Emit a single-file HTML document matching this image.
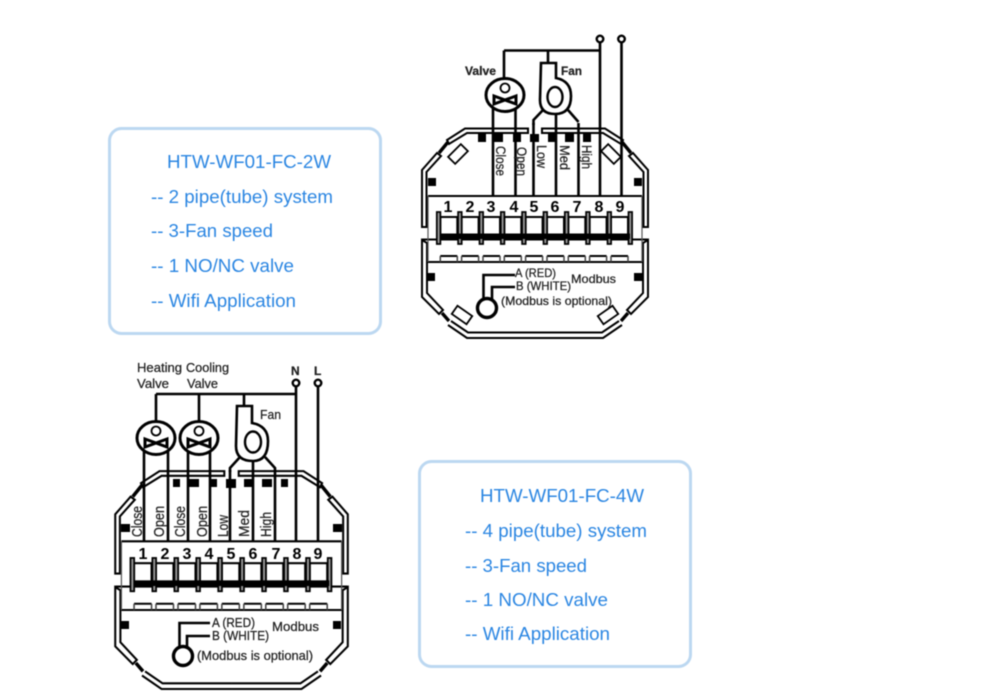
<!DOCTYPE html>
<html>
<head>
<meta charset="utf-8">
<style>
html,body{margin:0;padding:0;background:#fff;width:1000px;height:700px;overflow:hidden}
svg{display:block;filter:blur(.5px)}
.b{font-family:"Liberation Sans",sans-serif;font-size:18px;fill:#2b86e2}
.t{font-family:"Liberation Sans",sans-serif;fill:#222;font-size:12px;stroke:#222;stroke-width:.25px}
.d{font-family:"Liberation Sans",sans-serif;fill:#000;font-size:16px;font-weight:bold;text-anchor:middle}
.w{fill:none;stroke:#000;stroke-width:2.6}
</style>
</head>
<body>
<svg width="1000" height="700" viewBox="0 0 1000 700" xmlns="http://www.w3.org/2000/svg">
<defs>
  <g id="half" fill="none" stroke="#000" stroke-width="2">
    <path d="M528,133 V128.5 H465 L447,140 L449,144 L467,133 Z"/>
    <path d="M448,142 L439,153" stroke-width="3.4"/>
    <path d="M437,153 L422,170 V227 H426.5 V172 L441,156 Z"/>
    <path d="M422,240 V297 L439,314 L443,310 L427,293 V243 Z"/>
    <path d="M442,313 L449,321" stroke-width="3.4"/>
    <path d="M448,325 L467,338 H535 M451,321 L468,332.5 H535"/>
  </g>
  <g id="term">
    <rect x="2" y="217" width="17" height="20" fill="#fff" stroke="#000" stroke-width="2"/>
    <path d="M2,256 H19" stroke="#000" stroke-width="2"/>
    <path d="M2,256 V262 M19,256 V262" stroke="#444" stroke-width="1.5"/>
    <rect x="-1.5" y="212" width="3.6" height="32" fill="#999" stroke="#000" stroke-width="1.7"/>
  </g>
  <g id="case">
    <use href="#half"/>
    <use href="#half" transform="translate(1070,0) scale(-1,1)"/>
    <path d="M428,196 H642 M422,239.5 H648 M428,262 H642" fill="none" stroke="#000" stroke-width="2"/>
    <path d="M428,196 V262 M642,196 V262" fill="none" stroke="#555" stroke-width="1.2"/>
    <use href="#term" x="438.3"/><use href="#term" x="459.6"/><use href="#term" x="481"/>
    <use href="#term" x="502.3"/><use href="#term" x="523.6"/><use href="#term" x="545"/>
    <use href="#term" x="566.3"/><use href="#term" x="587.6"/><use href="#term" x="609"/>
    <rect x="628.5" y="212" width="3.6" height="32" fill="#999" stroke="#000" stroke-width="1.7"/>
    <rect x="440" y="233.5" width="190" height="5.5" fill="#000"/>
  </g>
  <g id="valve">
    <ellipse cx="0" cy="0" rx="19" ry="16.5" fill="#fff" stroke="#000" stroke-width="3"/>
    <circle cx="0" cy="-7" r="4.5" fill="#fff" stroke="#000" stroke-width="1.8"/>
    <path d="M-11,1 L0,5 L-11,9 Z M11,1 L0,5 L11,9 Z" fill="#fff" stroke="#000" stroke-width="3"/>
  </g>
</defs>

<rect x="0" y="0" width="1000" height="700" fill="#fff"/>

<!-- Box 1 -->
<rect x="109.5" y="128.5" width="271" height="205" rx="12" fill="#fff" stroke="#bcd8f1" stroke-width="3"/>
<text class="b" x="167" y="168" textLength="164" lengthAdjust="spacingAndGlyphs">HTW-WF01-FC-2W</text>
<text class="b" x="151" y="203" textLength="182" lengthAdjust="spacingAndGlyphs">-- 2 pipe(tube) system</text>
<text class="b" x="151" y="237" textLength="122" lengthAdjust="spacingAndGlyphs">-- 3-Fan speed</text>
<text class="b" x="151" y="272" textLength="143" lengthAdjust="spacingAndGlyphs">-- 1 NO/NC valve</text>
<text class="b" x="151" y="307" textLength="145" lengthAdjust="spacingAndGlyphs">-- Wifi Application</text>

<!-- Box 2 -->
<rect x="419.5" y="461.5" width="271" height="205" rx="12" fill="#fff" stroke="#bcd8f1" stroke-width="3"/>
<text class="b" x="480" y="502" textLength="164" lengthAdjust="spacingAndGlyphs">HTW-WF01-FC-4W</text>
<text class="b" x="465" y="537" textLength="182" lengthAdjust="spacingAndGlyphs">-- 4 pipe(tube) system</text>
<text class="b" x="465" y="572" textLength="122" lengthAdjust="spacingAndGlyphs">-- 3-Fan speed</text>
<text class="b" x="465" y="606" textLength="143" lengthAdjust="spacingAndGlyphs">-- 1 NO/NC valve</text>
<text class="b" x="465" y="640" textLength="145" lengthAdjust="spacingAndGlyphs">-- Wifi Application</text>

<!-- Device 1 -->
<use href="#case"/>
<path class="w" d="M504,50.5 H600 M504,50.5 V80 M548,50.5 V63 M600,43 V196 M621.5,43 V196 M493,100 V196 M515.5,100 V196 M533.5,123 V196 M556,112 V196 M578.5,123 V196"/>
<circle cx="600" cy="39" r="3.3" fill="#fff" stroke="#000" stroke-width="2.4"/>
<circle cx="621.5" cy="39" r="3.3" fill="#fff" stroke="#000" stroke-width="2.4"/>
<use href="#valve" x="505" y="95"/>
<path d="M541,63 H556 V78 Q571,81 571,96 Q571,114 555,114 Q540,114 540,100 Z" fill="#fff" stroke="#000" stroke-width="2.6"/>
<ellipse cx="555" cy="97" rx="7.5" ry="10" fill="#fff" stroke="#000" stroke-width="2.4"/>
<path class="w" d="M543,110 L533.5,120 V125 M568,110 L578.5,122"/>
<g fill="#000">
  <rect x="478" y="134" width="8" height="8"/><rect x="494" y="134" width="9" height="8"/><rect x="513" y="134" width="8" height="8"/>
  <rect x="530" y="134" width="9" height="8"/><rect x="548" y="134" width="8" height="8"/><rect x="565" y="134" width="9" height="8"/><rect x="583" y="134" width="8" height="8"/>
  <rect x="428" y="178" width="8" height="8"/><rect x="634" y="178" width="8" height="8"/>
  <rect x="427" y="273" width="8" height="8"/><rect x="634" y="273" width="8" height="8"/>
</g>
<g fill="#fff" stroke="#000" stroke-width="1.8">
  <rect x="449" y="149" width="18" height="10" transform="rotate(-45 458 154)"/>
  <rect x="602" y="149" width="18" height="10" transform="rotate(45 611 154)"/>
  <rect x="453" y="310" width="18" height="10" transform="rotate(35 462 315)"/>
  <rect x="599" y="310" width="18" height="10" transform="rotate(-35 608 315)"/>
</g>
<text class="t" x="465" y="75" style="font-size:12px;font-weight:bold" textLength="31" lengthAdjust="spacingAndGlyphs">Valve</text>
<text class="t" x="561" y="75" style="font-size:12px;font-weight:bold" textLength="21" lengthAdjust="spacingAndGlyphs">Fan</text>
<text class="t" transform="translate(496,146) rotate(90)" style="font-size:14px" textLength="30" lengthAdjust="spacingAndGlyphs">Close</text>
<text class="t" transform="translate(517,147) rotate(90)" style="font-size:14px" textLength="29" lengthAdjust="spacingAndGlyphs">Open</text>
<text class="t" transform="translate(537,145) rotate(90)" style="font-size:14px" textLength="23" lengthAdjust="spacingAndGlyphs">Low</text>
<text class="t" transform="translate(560,145) rotate(90)" style="font-size:14px" textLength="25" lengthAdjust="spacingAndGlyphs">Med</text>
<text class="t" transform="translate(582,145) rotate(90)" style="font-size:14px" textLength="24" lengthAdjust="spacingAndGlyphs">High</text>
<g>
<text class="d" x="448" y="212">1</text><text class="d" x="470" y="212">2</text><text class="d" x="491" y="212">3</text>
<text class="d" x="514" y="212">4</text><text class="d" x="534" y="212">5</text><text class="d" x="555" y="212">6</text>
<text class="d" x="577" y="212">7</text><text class="d" x="599" y="212">8</text><text class="d" x="620" y="212">9</text>
</g>
<path d="M515,275 H483.5 V301 M515,287 H492 V300" fill="none" stroke="#000" stroke-width="2.6"/>
<circle cx="487" cy="308" r="9.5" fill="#fff" stroke="#000" stroke-width="3.4"/>
<text class="t" x="515" y="277" textLength="41" lengthAdjust="spacingAndGlyphs" style="font-size:12px">A (RED)</text>
<text class="t" x="516" y="290" textLength="55" lengthAdjust="spacingAndGlyphs" style="font-size:12px">B (WHITE)</text>
<text class="t" x="571" y="283" textLength="45" lengthAdjust="spacingAndGlyphs" style="font-size:12px">Modbus</text>
<text class="t" x="501" y="305" textLength="111" lengthAdjust="spacingAndGlyphs" style="font-size:12px">(Modbus is optional)</text>

<!-- Device 2 -->
<use href="#case" transform="matrix(1.029,0,0,1.04,-319,337.5)"/>
<path class="w" d="M156,394 H297 M156,394 V422 M199,394 V422 M244,394 V406 M296,387 V542 M318,387 V542 M144,445 V542 M168,445 V542 M188,445 V542 M210,445 V542 M230,470 V542 M253,460 V542 M275,470 V542"/>
<circle cx="296" cy="383" r="3.3" fill="#fff" stroke="#000" stroke-width="2.4"/>
<circle cx="318" cy="383" r="3.3" fill="#fff" stroke="#000" stroke-width="2.4"/>
<use href="#valve" x="156" y="438"/>
<use href="#valve" x="199" y="438"/>
<path d="M237,406 H252 V423 Q268,426 268,441 Q268,461 253,461 Q236,461 236,446 Z" fill="#fff" stroke="#000" stroke-width="2.6"/>
<ellipse cx="253" cy="442" rx="8" ry="10.5" fill="#fff" stroke="#000" stroke-width="2.4"/>
<path class="w" d="M240,457 L230,468 V472 M265,457 L275,468 V472"/>
<g fill="#000">
  <rect x="173" y="479" width="7" height="8"/><rect x="189" y="479" width="10" height="8"/><rect x="209" y="479" width="8" height="8"/>
  <rect x="226" y="479" width="10" height="9"/><rect x="244" y="479" width="8" height="8"/><rect x="262" y="479" width="10" height="8"/><rect x="281" y="479" width="7" height="8"/>
  <rect x="121" y="524" width="9" height="8"/><rect x="333" y="524" width="9" height="8"/>
  <rect x="121" y="621" width="8" height="8"/><rect x="333" y="621" width="8" height="8"/>
</g>
<text class="t" x="137" y="372" textLength="45" lengthAdjust="spacingAndGlyphs" style="font-size:13px">Heating</text>
<text class="t" x="137" y="388" textLength="32" lengthAdjust="spacingAndGlyphs" style="font-size:13px">Valve</text>
<text class="t" x="186" y="372" textLength="43" lengthAdjust="spacingAndGlyphs" style="font-size:13px">Cooling</text>
<text class="t" x="187" y="388" textLength="31" lengthAdjust="spacingAndGlyphs" style="font-size:13px">Valve</text>
<text class="t" x="260" y="419" textLength="21" lengthAdjust="spacingAndGlyphs" style="font-size:13px">Fan</text>
<text class="t" x="291" y="375" style="font-size:12px;font-weight:bold">N</text>
<text class="t" x="314" y="375" style="font-size:12px;font-weight:bold">L</text>
<text class="t" transform="translate(142,537) rotate(-90)" style="font-size:15px" textLength="31" lengthAdjust="spacingAndGlyphs">Close</text>
<text class="t" transform="translate(164,537) rotate(-90)" style="font-size:15px" textLength="31" lengthAdjust="spacingAndGlyphs">Open</text>
<text class="t" transform="translate(185,537) rotate(-90)" style="font-size:15px" textLength="31" lengthAdjust="spacingAndGlyphs">Close</text>
<text class="t" transform="translate(207,537) rotate(-90)" style="font-size:15px" textLength="31" lengthAdjust="spacingAndGlyphs">Open</text>
<text class="t" transform="translate(228,537) rotate(-90)" style="font-size:15px" textLength="22" lengthAdjust="spacingAndGlyphs">Low</text>
<text class="t" transform="translate(249,537) rotate(-90)" style="font-size:15px" textLength="27" lengthAdjust="spacingAndGlyphs">Med</text>
<text class="t" transform="translate(271,537) rotate(-90)" style="font-size:15px" textLength="25" lengthAdjust="spacingAndGlyphs">High</text>
<g>
<text class="d" x="143" y="559">1</text><text class="d" x="165" y="559">2</text><text class="d" x="187" y="559">3</text>
<text class="d" x="209" y="559">4</text><text class="d" x="231" y="559">5</text><text class="d" x="253" y="559">6</text>
<text class="d" x="276" y="559">7</text><text class="d" x="297" y="559">8</text><text class="d" x="318" y="559">9</text>
</g>
<path d="M210,623 H179.5 V650 M210,636 H187 V648" fill="none" stroke="#000" stroke-width="2.6"/>
<circle cx="183" cy="656" r="9.5" fill="#fff" stroke="#000" stroke-width="3.4"/>
<text class="t" x="212" y="627" textLength="43" lengthAdjust="spacingAndGlyphs" style="font-size:13px">A (RED)</text>
<text class="t" x="212" y="640" textLength="57" lengthAdjust="spacingAndGlyphs" style="font-size:13px">B (WHITE)</text>
<text class="t" x="272" y="631" textLength="47" lengthAdjust="spacingAndGlyphs" style="font-size:13px">Modbus</text>
<text class="t" x="197" y="660" textLength="116" lengthAdjust="spacingAndGlyphs" style="font-size:13px">(Modbus is optional)</text>
</svg>
</body>
</html>
